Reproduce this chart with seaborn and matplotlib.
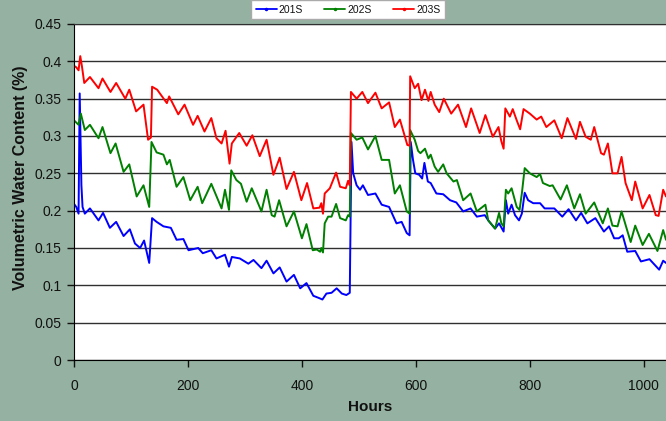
import pandas as pd
import matplotlib
matplotlib.use('Agg')
import matplotlib.pyplot as plt
from matplotlib.lines import Line2D
import seaborn as sns

# --- Data (hours, volumetric water content) ---
hours_201 = [0, 4, 8, 10, 13, 15, 19, 28, 43, 51, 63, 74, 87, 98, 107, 116, 123, 132, 137,
             145, 157, 170, 180, 192, 201, 218, 226, 241, 250, 265, 272, 277, 291, 306, 315,
             329, 338, 350, 361, 373, 386, 397, 408, 420, 430, 436, 443, 452, 461, 470, 478,
             484, 485, 487, 490, 496, 502, 507, 516, 529, 540, 553, 566, 575, 584, 589, 591,
             595, 599, 606, 611, 615, 621, 626, 636, 648, 660, 671, 683, 696, 707, 721, 727,
             739, 746, 754, 758, 762, 768, 774, 781, 786, 791, 797, 806, 818, 826, 843, 857,
             868, 881, 890, 901, 915, 930, 939, 948, 956, 963, 971, 985, 995, 1010, 1027,
             1034, 1039]
vwc_201 = [0.209, 0.205, 0.196, 0.357, 0.234, 0.205, 0.196, 0.203, 0.187, 0.197, 0.177, 0.185,
           0.166, 0.175, 0.156, 0.150, 0.160, 0.130, 0.190, 0.185, 0.179, 0.177, 0.161, 0.162,
           0.147, 0.150, 0.143, 0.147, 0.136, 0.141, 0.125, 0.138, 0.136, 0.129, 0.134, 0.123,
           0.133, 0.116, 0.124, 0.105, 0.114, 0.096, 0.103, 0.086, 0.083, 0.081, 0.089, 0.090,
           0.096, 0.089, 0.087, 0.090, 0.159, 0.292, 0.250, 0.234, 0.228, 0.234, 0.221, 0.223,
           0.208, 0.205, 0.183, 0.185, 0.170, 0.167, 0.292, 0.268, 0.250, 0.248, 0.243, 0.264,
           0.239, 0.237, 0.223, 0.222, 0.214, 0.211, 0.199, 0.203, 0.192, 0.194, 0.187, 0.176,
           0.183, 0.172, 0.214, 0.196, 0.208, 0.194, 0.187, 0.196, 0.224, 0.214, 0.210, 0.210,
           0.203, 0.203, 0.192, 0.202, 0.187, 0.197, 0.183, 0.190, 0.172, 0.179, 0.163, 0.163,
           0.167, 0.145, 0.146, 0.132, 0.135, 0.121, 0.133, 0.130]

hours_202 = [0, 4, 8, 12, 19, 28, 43, 50, 64, 73, 87, 97, 110, 122, 132, 136, 145, 157, 163,
             168, 180, 192, 204, 217, 225, 241, 259, 265, 272, 276, 285, 293, 303, 312, 329,
             338, 347, 352, 360, 373, 386, 400, 408, 419, 426, 432, 434, 437, 440, 446, 452,
             460, 467, 477, 481, 484, 486, 496, 506, 516, 529, 540, 553, 563, 572, 584, 589,
             590, 598, 604, 608, 616, 622, 626, 633, 639, 648, 654, 666, 672, 683, 696, 707,
             722, 727, 739, 746, 750, 754, 758, 762, 768, 777, 782, 786, 791, 800, 812, 818,
             823, 835, 840, 854, 865, 878, 888, 898, 913, 928, 937, 945, 954, 961, 977, 985,
             998, 1009, 1024, 1034, 1039]
vwc_202 = [0.321, 0.318, 0.315, 0.330, 0.308, 0.315, 0.297, 0.312, 0.277, 0.290, 0.252, 0.262,
           0.219, 0.234, 0.205, 0.292, 0.278, 0.275, 0.262, 0.268, 0.232, 0.245, 0.214, 0.232,
           0.210, 0.236, 0.203, 0.228, 0.201, 0.254, 0.241, 0.236, 0.212, 0.230, 0.199, 0.228,
           0.194, 0.192, 0.214, 0.179, 0.199, 0.163, 0.182, 0.147, 0.148, 0.145, 0.150, 0.144,
           0.183, 0.192, 0.192, 0.209, 0.190, 0.187, 0.194, 0.192, 0.304, 0.295, 0.298, 0.282,
           0.300, 0.268, 0.268, 0.223, 0.234, 0.199, 0.196, 0.308, 0.295, 0.280, 0.277, 0.283,
           0.270, 0.275, 0.259, 0.252, 0.262, 0.250, 0.239, 0.241, 0.214, 0.223, 0.199, 0.208,
           0.187, 0.176, 0.197, 0.183, 0.179, 0.228, 0.223, 0.230, 0.205, 0.201, 0.223, 0.257,
           0.250, 0.245, 0.249, 0.237, 0.233, 0.234, 0.215, 0.234, 0.203, 0.222, 0.196, 0.211,
           0.183, 0.203, 0.180, 0.179, 0.199, 0.158, 0.180, 0.154, 0.169, 0.146, 0.174, 0.161]

hours_203 = [0, 4, 8, 11, 14, 18, 28, 43, 50, 64, 74, 90, 97, 109, 122, 130, 135, 137, 146,
             163, 167, 183, 194, 209, 217, 229, 241, 250, 259, 266, 273, 277, 290, 303, 313,
             326, 338, 350, 361, 373, 386, 399, 409, 420, 431, 434, 437, 440, 449, 460, 467,
             477, 481, 484, 486, 496, 506, 516, 529, 540, 553, 563, 572, 585, 589, 590, 598,
             604, 610, 616, 622, 626, 633, 641, 649, 662, 674, 688, 697, 712, 722, 735, 745,
             750, 754, 757, 765, 770, 777, 783, 789, 800, 812, 820, 829, 843, 856, 866, 881,
             888, 898, 907, 913, 925, 930, 937, 945, 954, 961, 968, 979, 985, 998, 1010, 1021,
             1026, 1034, 1039]
vwc_203 = [0.394, 0.392, 0.388, 0.407, 0.393, 0.371, 0.379, 0.364, 0.377, 0.359, 0.371, 0.350,
           0.362, 0.333, 0.342, 0.295, 0.298, 0.366, 0.362, 0.344, 0.353, 0.329, 0.342, 0.315,
           0.327, 0.306, 0.324, 0.297, 0.290, 0.307, 0.263, 0.290, 0.304, 0.287, 0.301, 0.273,
           0.295, 0.248, 0.271, 0.229, 0.252, 0.214, 0.237, 0.203, 0.204, 0.210, 0.196, 0.223,
           0.230, 0.251, 0.232, 0.230, 0.240, 0.234, 0.359, 0.350, 0.359, 0.344, 0.358, 0.337,
           0.345, 0.312, 0.322, 0.288, 0.287, 0.380, 0.364, 0.370, 0.348, 0.362, 0.347, 0.359,
           0.342, 0.332, 0.350, 0.330, 0.342, 0.312, 0.337, 0.304, 0.328, 0.299, 0.312, 0.293,
           0.283, 0.337, 0.326, 0.336, 0.321, 0.309, 0.336, 0.330, 0.322, 0.326, 0.312, 0.321,
           0.297, 0.324, 0.296, 0.319, 0.299, 0.295, 0.312, 0.277, 0.275, 0.290, 0.250, 0.250,
           0.272, 0.237, 0.214, 0.239, 0.203, 0.221, 0.194, 0.193, 0.228, 0.219]

probes = ['201S', '202S', '203S']
colors = {'201S': '#0000FF', '202S': '#008000', '203S': '#FF0000'}

# --- Build long table ---
frames = []
for name, h, v in zip(probes, [hours_201, hours_202, hours_203], [vwc_201, vwc_202, vwc_203]):
    frames.append(pd.DataFrame({'Hours': h, 'VWC': v, 'Probe': name}))
df = pd.concat(frames, ignore_index=True)

# --- Plot ---
sns.set_style('white')
plt.rcParams['font.family'] = ['Liberation Sans', 'DejaVu Sans']
plt.rcParams['text.color'] = '#111111'
plt.rcParams['axes.labelcolor'] = '#111111'
bg = '#95B1A1'

fig = plt.figure(figsize=(6.66, 4.21), dpi=100, facecolor=bg)
ax = fig.add_axes([74 / 666, 1 - 360 / 421, 592 / 666, 336 / 421])
ax.set_facecolor('white')

sns.lineplot(data=df, x='Hours', y='VWC', hue='Probe', palette=colors,
             estimator=None, sort=False, linewidth=1.4, legend=False, ax=ax)

ax.set_xlim(0, 1039)
ax.set_ylim(0, 0.45)
ax.set_xticks([0, 200, 400, 600, 800, 1000])
ax.set_yticks([0, 0.05, 0.1, 0.15, 0.2, 0.25, 0.3, 0.35, 0.4, 0.45])
ax.set_yticklabels(['0', '0.05', '0.1', '0.15', '0.2', '0.25', '0.3', '0.35', '0.4', '0.45'])
ax.yaxis.grid(True, color='#303030', linewidth=1)
ax.set_axisbelow(True)

ax.spines['right'].set_visible(False)
ax.spines['top'].set_color('#303030')
ax.spines['left'].set_color('black')
ax.spines['bottom'].set_color('black')

ax.tick_params(axis='x', direction='out', length=5, width=1, pad=9, labelsize=10,
               colors='#111111', bottom=True)
ax.tick_params(axis='y', direction='out', length=5, width=1, pad=4, labelsize=10,
               colors='#111111', left=True)

ax.set_xlabel('Hours', fontsize=11, fontweight='bold')
ax.set_ylabel('Volumetric Water Content (%)', fontsize=11.5, fontweight='bold')
ax.xaxis.set_label_coords(0.5, -0.12)
ax.yaxis.set_label_coords(-0.078, 0.542)

handles = [Line2D([0], [0], color=colors[p], lw=1.3, marker='.', markersize=3) for p in probes]
fig.legend(handles, probes, loc='upper left', mode='expand', ncol=3,
           bbox_to_anchor=(251 / 666, 1 - 22 / 421, 194 / 666, 22 / 421),
           borderaxespad=0, fontsize=7.5, frameon=True, fancybox=False,
           edgecolor='#aaaaaa', framealpha=1, handlelength=2.0, handletextpad=0.2,
           borderpad=0.45)

fig.savefig('out.png', dpi=100, facecolor=bg)
plt.close(fig)
